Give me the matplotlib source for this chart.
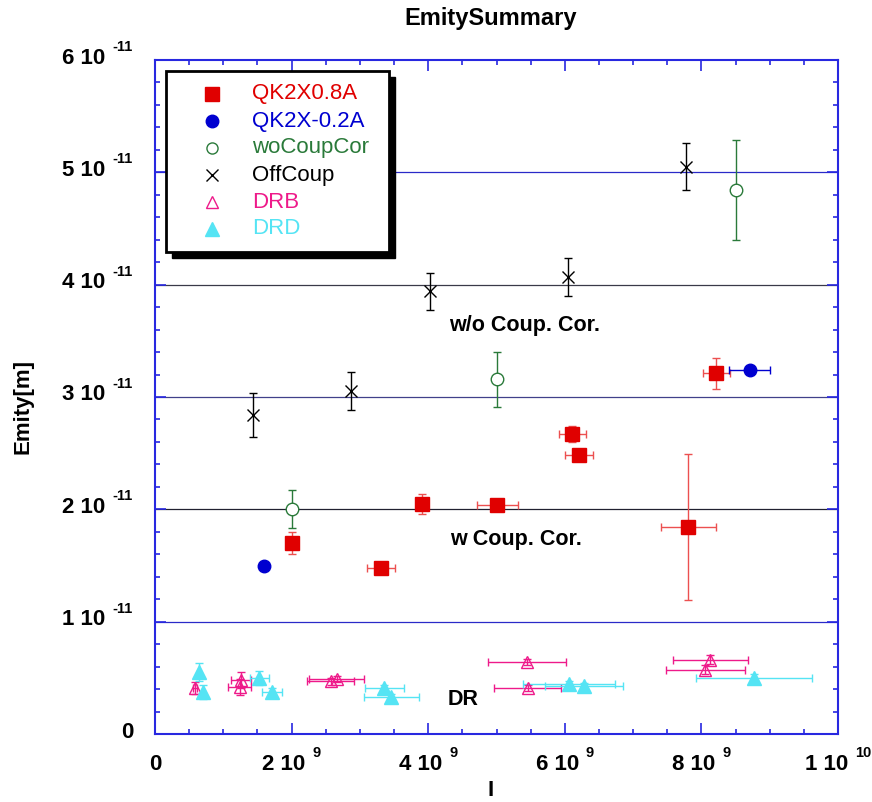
"""
EmitySummary — emittance vs. bunch intensity, with coupling-correction groups and DR data.
"""

import matplotlib

matplotlib.use("Agg")
import matplotlib.pyplot as plt
from matplotlib.patches import Rectangle
from matplotlib.transforms import offset_copy

plt.rcParams["font.family"] = ["Liberation Sans", "DejaVu Sans"]

# ---------------------------------------------------------------------------
# data (I in units of 1e9, Emity in units of 1e-11 m)
# ---------------------------------------------------------------------------

qk08_I = [2.00, 3.31, 3.91, 5.01, 6.11, 6.21, 7.81, 8.22]
qk08_E = [1.70, 1.48, 2.05, 2.04, 2.67, 2.48, 1.84, 3.21]
qk08_Ierr = [0.05, 0.20, 0.05, 0.30, 0.20, 0.20, 0.40, 0.20]
qk08_Eerr = [0.10, 0.03, 0.09, 0.03, 0.07, 0.03, 0.65, 0.14]

qk02_I = [1.60, 8.71]
qk02_E = [1.50, 3.24]
qk02_Ierr = [0.0, 0.30]

wocoup_I = [2.01, 5.01, 8.51]
wocoup_E = [2.00, 3.16, 4.84]
wocoup_Eerr = [0.17, 0.245, 0.445]

offcoup_I = [1.44, 2.87, 4.03, 6.04, 7.78]
offcoup_E = [2.84, 3.05, 3.94, 4.07, 5.05]
offcoup_Eerr = [0.20, 0.17, 0.165, 0.17, 0.21]

drb_I = [0.59, 1.26, 1.24, 2.57, 2.66, 5.45, 5.46, 8.13, 8.06]
drb_E = [0.41, 0.48, 0.42, 0.47, 0.49, 0.64, 0.41, 0.66, 0.57]
drb_Ierr = [0.03, 0.14, 0.17, 0.35, 0.40, 0.57, 0.49, 0.55, 0.58]
drb_Eerr = [0.055, 0.07, 0.07, 0.03, 0.03, 0.03, 0.03, 0.04, 0.04]

drd_I = [0.65, 0.71, 1.53, 1.71, 3.36, 3.46, 6.06, 6.28, 8.77]
drd_E = [0.554, 0.376, 0.50, 0.376, 0.41, 0.33, 0.445, 0.427, 0.50]
drd_Ierr = [0.0, 0.0, 0.14, 0.15, 0.28, 0.40, 0.67, 0.57, 0.85]
drd_Eerr = [0.08, 0.06, 0.06, 0.03, 0.03, 0.03, 0.03, 0.03, 0.03]

x_ticks = [0, 2e9, 4e9, 6e9, 8e9, 1e10]
x_tick_labels = [("0", ""), ("2 10", "9"), ("4 10", "9"), ("6 10", "9"), ("8 10", "9"), ("1 10", "10")]
y_ticks = [0, 1e-11, 2e-11, 3e-11, 4e-11, 5e-11, 6e-11]
y_tick_labels = [("0", "")] + [(f"{k} 10", "-11") for k in range(1, 7)]

legend_labels = ["QK2X0.8A", "QK2X-0.2A", "woCoupCor", "OffCoup", "DRB", "DRD"]

# colours
RED = "#e00000"
BLUE = "#0000d0"
GREEN = "#2a7a3a"
BLACK = "#000000"
MAGENTA = "#ee1a8a"
CYAN = "#55e4f4"
AXIS_BLUE = "#2828e0"

W, H = 872, 802
AX_L, AX_R, AX_T, AX_B = 155, 838, 60, 734


def scale(values, factor):
    return [v * factor for v in values]


fig = plt.figure(figsize=(W / 100, H / 100), dpi=100)
ax = fig.add_axes([AX_L / W, 1 - AX_B / H, (AX_R - AX_L) / W, (AX_B - AX_T) / H])

ax.set_xlim(0, 1e10)
ax.set_ylim(0, 6e-11)

# horizontal reference lines
grid_colors = ["#2a2ac8", "#202030", "#40408a", "#3a3a48", "#2a2ac8"]
for k, col in zip(range(1, 6), grid_colors):
    ax.axhline(k * 1e-11, color=col, lw=0.9, zorder=1)

ebar = dict(linestyle="none", capsize=3, elinewidth=1, capthick=1, zorder=3)

ax.errorbar(scale(qk08_I, 1e9), scale(qk08_E, 1e-11),
            xerr=scale(qk08_Ierr, 1e9), yerr=scale(qk08_Eerr, 1e-11),
            marker="s", ms=10, color=RED, ecolor="#ec5050", mec=RED, **ebar)
ax.errorbar(scale(qk02_I, 1e9), scale(qk02_E, 1e-11), xerr=scale(qk02_Ierr, 1e9),
            marker="o", ms=9, color=BLUE, **ebar)
ax.errorbar(scale(wocoup_I, 1e9), scale(wocoup_E, 1e-11), yerr=scale(wocoup_Eerr, 1e-11),
            marker="o", ms=9, mfc="white", mec=GREEN, color=GREEN, mew=1, **ebar)
ax.errorbar(scale(offcoup_I, 1e9), scale(offcoup_E, 1e-11), yerr=scale(offcoup_Eerr, 1e-11),
            marker="x", ms=9, mew=1, color=BLACK, **ebar)
ax.errorbar(scale(drb_I, 1e9), scale(drb_E, 1e-11),
            xerr=scale(drb_Ierr, 1e9), yerr=scale(drb_Eerr, 1e-11),
            marker="^", ms=9, mfc="none", mec=MAGENTA, color=MAGENTA, mew=1, **ebar)
ax.errorbar(scale(drd_I, 1e9), scale(drd_E, 1e-11),
            xerr=scale(drd_Ierr, 1e9), yerr=scale(drd_Eerr, 1e-11),
            marker="^", ms=10, color=CYAN, **ebar)

# group annotations
note_font = dict(fontsize=15.5, fontweight="bold", va="center", ha="left", zorder=4)
ax.text(4.31e9, 3.64e-11, "w/o Coup. Cor.", **note_font)
ax.text(4.32e9, 1.73e-11, "w Coup. Cor.", **note_font)
ax.text(4.29e9, 0.31e-11, "DR", **note_font)

# axes frame and ticks
for spine in ax.spines.values():
    spine.set_color(AXIS_BLUE)
    spine.set_linewidth(1.5)
ax.set_xticks(x_ticks)
ax.set_yticks(y_ticks)
ax.set_xticks([i * 0.5e9 for i in range(21)], minor=True)
ax.set_yticks([i * 0.2e-11 for i in range(31)], minor=True)
ax.tick_params(which="both", direction="in", top=True, right=True, color=AXIS_BLUE,
               labelbottom=False, labelleft=False, width=1.2)
ax.tick_params(which="major", length=8)
ax.tick_params(which="minor", length=3.5)

# tick labels: "n 10" with a raised exponent
ytr = ax.get_yaxis_transform()
for v, (main, exp) in zip(y_ticks, y_tick_labels):
    if not exp:
        ax.text(0, v, main, transform=offset_copy(ytr, fig, x=-22, y=2, units="dots"),
                ha="right", va="center", fontsize=16, fontweight="bold", clip_on=False)
        continue
    ax.text(0, v, main, transform=offset_copy(ytr, fig, x=-50, y=2, units="dots"),
            ha="right", va="center", fontsize=16, fontweight="bold", clip_on=False)
    ax.text(0, v, exp, transform=offset_copy(ytr, fig, x=-43, y=13, units="dots"),
            ha="left", va="center", fontsize=10.5, fontweight="bold", clip_on=False)

xtr = ax.get_xaxis_transform()
for v, (main, exp) in zip(x_ticks, x_tick_labels):
    if not exp:
        ax.text(v, 0, main, transform=offset_copy(xtr, fig, x=0, y=-31, units="dots"),
                ha="center", va="center", fontsize=16, fontweight="bold", clip_on=False)
        continue
    wsup = 7.7 * len(exp)
    shift = (36 - wsup) / 2
    ax.text(v, 0, main, transform=offset_copy(xtr, fig, x=shift, y=-31, units="dots"),
            ha="right", va="center", fontsize=16, fontweight="bold", clip_on=False)
    ax.text(v, 0, exp, transform=offset_copy(xtr, fig, x=shift + 7, y=-19, units="dots"),
            ha="left", va="center", fontsize=10.5, fontweight="bold", clip_on=False)

fig.text(491 / W, 1 - 18 / H, "EmitySummary", ha="center", va="center",
         fontsize=17, fontweight="bold")
fig.text(23 / W, 1 - 407 / H, "Emity[m]", ha="center", va="center", rotation=90,
         fontsize=16, fontweight="bold")
fig.text(491 / W, 1 - 790 / H, "I", ha="center", va="center", fontsize=16, fontweight="bold")


# hand-made legend box with a solid drop shadow
def px2ax(px, py):
    return (px - AX_L) / (AX_R - AX_L), (AX_B - py) / (AX_B - AX_T)


bx0, by1 = px2ax(166, 71)
bx1, by0 = px2ax(389, 252)
sx, sy = px2ax(172, 77)
ax.add_patch(Rectangle((sx, by0 - (by1 - sy)), bx1 - bx0, by1 - by0, transform=ax.transAxes,
                       facecolor="black", edgecolor="black", zorder=8, clip_on=False))
ax.add_patch(Rectangle((bx0, by0), bx1 - bx0, by1 - by0, transform=ax.transAxes,
                       facecolor="white", edgecolor="black", lw=2, zorder=9, clip_on=False))

legend_styles = [
    dict(marker="s", ms=9.5, color=RED),
    dict(marker="o", ms=9, color=BLUE),
    dict(marker="o", ms=8, mfc="white", mec=GREEN, mew=1),
    dict(marker="x", ms=8, color=BLACK, mew=1),
    dict(marker="^", ms=9, mfc="none", mec=MAGENTA, mew=1),
    dict(marker="^", ms=9.5, color=CYAN),
]
legend_colors = [RED, BLUE, GREEN, BLACK, MAGENTA, CYAN]
row_y = [94, 121, 148, 175, 202, 229]
for label, style, col, py in zip(legend_labels, legend_styles, legend_colors, row_y):
    mx, my = px2ax(212, py)
    ax.plot([mx], [my], transform=ax.transAxes, linestyle="none", zorder=10, clip_on=False, **style)
    tx, ty = px2ax(252, py)
    ax.text(tx, ty, label, transform=ax.transAxes, color=col, fontsize=16,
            ha="left", va="center", zorder=10)

fig.savefig("out.png", dpi=100)
